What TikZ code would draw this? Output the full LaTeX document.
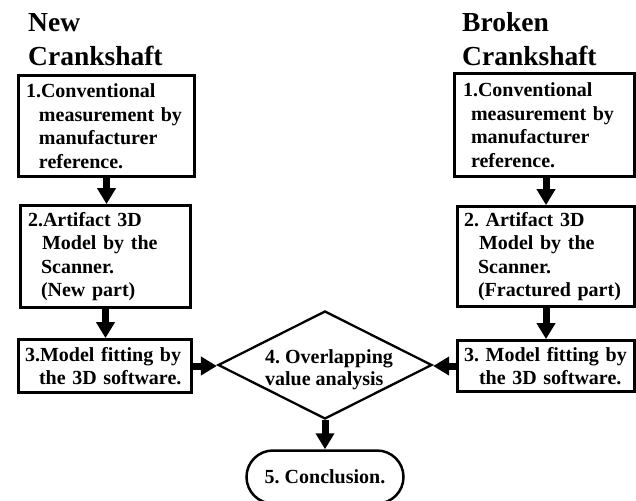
\documentclass[tikz,border=0pt]{standalone}
\usepackage{fontspec}
\setmainfont{Liberation Serif}
\usetikzlibrary{arrows.meta,shapes.geometric}
\begin{document}
\frenchspacing
\begin{tikzpicture}[x=1pt,y=-1pt,
  box/.style={draw,line width=2.8pt,align=left,inner ysep=0pt,
    font=\fontsize{20}{23.5}\selectfont\bfseries\frenchspacing},
  ttl/.style={anchor=base west,inner sep=0pt,
    font=\fontsize{27.5}{34}\selectfont\bfseries},
  flow/.style={line width=7pt,-{Triangle[width=18pt,length=16pt]}},
]
\path[fill=white] (0,0) rectangle (636,500);
\useasboundingbox (0,0) rectangle (636,500);

% titles
\node[ttl] (tn1) at (28,32) {New};
\node[ttl] (tn2) at (28,66) {Crankshaft};
\node[ttl] (tb1) at (462,32) {Broken};
\node[ttl] (tb2) at (462,66) {Crankshaft};

% left column
\node[box,text width=161pt,inner xsep=7.5pt,minimum height=101pt] (L1) at (106.5,126)
  {1.Conventional\\\hspace*{13pt}measurement by\\\hspace*{13pt}manufacturer\\\hspace*{13pt}reference.};
\node[box,text width=155pt,inner xsep=7.5pt,minimum height=102pt] (L2) at (105.5,256.5)
  {2.Artifact 3D\\\hspace*{14pt}Model by the\\\hspace*{13pt}Scanner.\\\hspace*{13pt}(New part)};
\node[box,text width=160pt,inner xsep=6.5pt,minimum height=53pt] (L3) at (105,366)
  {3.Model fitting by\\\hspace*{14pt}the 3D software.};

% right column
\node[box,text width=163pt,inner xsep=8.5pt,minimum height=103pt] (R1) at (544.5,125)
  {1.Conventional\\\hspace*{8pt}measurement by\\\hspace*{8pt}manufacturer\\\hspace*{8pt}reference.};
\node[box,text width=164pt,inner xsep=6.5pt,minimum height=100pt] (R2) at (546,256.5)
  {2. Artifact 3D\\\hspace*{15pt}Model by the\\\hspace*{14pt}Scanner.\\\hspace*{14pt}(Fractured part)};
\node[box,text width=164pt,inner xsep=6.5pt,minimum height=51pt] (R3) at (546,366)
  {3. Model fitting by\\\hspace*{15pt}the 3D software.};

% decision and end
\node[draw,diamond,line width=2.3pt,shape aspect=2,minimum width=214pt,minimum height=108pt,
  inner sep=0pt] (D) at (325,365) {};
\node[inner sep=0pt,align=left,font=\fontsize{20}{22}\selectfont\bfseries\frenchspacing]
  (Dt) at (329,370) {4. Overlapping\\value analysis};
\node[draw,line width=2.5pt,rounded corners=26.5pt,minimum width=157pt,minimum height=53pt,
  inner sep=0pt,font=\fontsize{20}{24}\selectfont\bfseries\frenchspacing] (C) at (325,477) {5. Conclusion.};

% connectors
\draw[flow] (L1.south) -- (L1.south |- L2.north);
\draw[flow] (L2.south) -- (L2.south |- L3.north);
\draw[flow] (R1.south -| R2.north) -- (R2.north);
\draw[flow] (R2.south) -- (R3.north);
\draw[flow] (L3.east) -- (L3.east -| D.west);
\draw[flow] (R3.west) -- (R3.west -| D.east);
\draw[flow] (D.south) -- (C.north);
\end{tikzpicture}
\end{document}
